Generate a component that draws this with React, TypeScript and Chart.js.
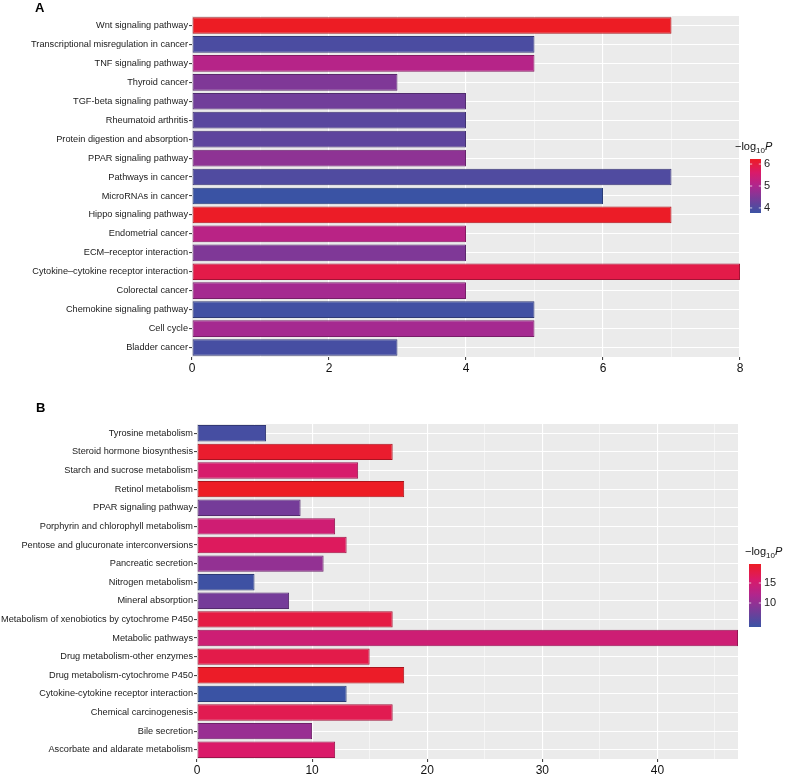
import React, { useEffect, useRef } from "react";
import { Chart, registerables } from "chart.js";

Chart.register(...registerables);

// ---------- Panel A data ----------
const categoriesA = [
  "Wnt signaling pathway",
  "Transcriptional misregulation in cancer",
  "TNF signaling pathway",
  "Thyroid cancer",
  "TGF-beta signaling pathway",
  "Rheumatoid arthritis",
  "Protein digestion and absorption",
  "PPAR signaling pathway",
  "Pathways in cancer",
  "MicroRNAs in cancer",
  "Hippo signaling pathway",
  "Endometrial cancer",
  "ECM\u2013receptor interaction",
  "Cytokine\u2013cytokine receptor interaction",
  "Colorectal cancer",
  "Chemokine signaling pathway",
  "Cell cycle",
  "Bladder cancer",
];
const countsA = [7, 5, 5, 3, 4, 4, 4, 4, 7, 6, 7, 4, 4, 8, 4, 5, 5, 3];
const logPA = [6.23, 3.95, 5.1, 4.5, 4.35, 4.1, 4.15, 4.65, 4.0, 3.77, 6.2, 5.15, 4.5, 5.9, 4.9, 3.85, 4.9, 3.9];
const xTicksA = [0, 1, 2, 3, 4, 5, 6, 7, 8];
const xLabelStepA = 2;
const xMaxA = 8;
const legendTicksA = [4, 5, 6];
const legendRangeA = [3.77, 6.23];

// ---------- Panel B data ----------
const categoriesB = [
  "Tyrosine metabolism",
  "Steroid hormone biosynthesis",
  "Starch and sucrose metabolism",
  "Retinol metabolism",
  "PPAR signaling pathway",
  "Porphyrin and chlorophyll metabolism",
  "Pentose and glucuronate interconversions",
  "Pancreatic secretion",
  "Nitrogen metabolism",
  "Mineral absorption",
  "Metabolism of xenobiotics by cytochrome P450",
  "Metabolic pathways",
  "Drug metabolism-other enzymes",
  "Drug metabolism-cytochrome P450",
  "Cytokine-cytokine receptor interaction",
  "Chemical carcinogenesis",
  "Bile secretion",
  "Ascorbate and aldarate metabolism",
];
const countsB = [6, 17, 14, 18, 9, 12, 13, 11, 5, 8, 17, 47, 15, 18, 13, 17, 10, 12];
const logPB = [4.8, 19.2, 15.5, 19.75, 8.0, 14.8, 16.5, 10.0, 4.3, 8.0, 18.0, 14.6, 17.6, 19.5, 4.0, 17.2, 10.4, 15.8];
const xTicksB = [0, 5, 10, 15, 20, 25, 30, 35, 40, 45];
const xLabelStepB = 10;
const xMaxB = 47;
const legendTicksB = [10, 15];
const legendRangeB = [4.0, 19.75];

const FONT = "'Liberation Sans', Arial, Helvetica, sans-serif";

const stopPos = [0, 0.5, 0.75, 1];
const stopCol = [
  [58, 83, 164],
  [175, 38, 142],
  [218, 26, 105],
  [237, 28, 36],
];

function mix(a: number[], b: number[], t: number) {
  return a.map((v, i) => Math.round(v + (b[i] - v) * t));
}
function colorRGB(t: number) {
  t = Math.max(0, Math.min(1, t));
  for (let i = 0; i < stopPos.length - 1; i++) {
    if (t <= stopPos[i + 1]) {
      return mix(stopCol[i], stopCol[i + 1], (t - stopPos[i]) / (stopPos[i + 1] - stopPos[i]));
    }
  }
  return stopCol[stopCol.length - 1];
}
function colorFor(v: number, range: number[]) {
  const c = colorRGB((v - range[0]) / (range[1] - range[0]));
  return `rgb(${c[0]},${c[1]},${c[2]})`;
}
function borderFor(v: number, range: number[]) {
  const c = colorRGB((v - range[0]) / (range[1] - range[0])).map((x) => Math.round(x * 0.72));
  return `rgb(${c[0]},${c[1]},${c[2]})`;
}

type Layout = {
  width: number;
  height: number;
  axisWidth: number;
  axisHeight: number;
  padTop: number;
  padRight: number;
  letter: string;
  letterX: number;
  letterY: number;
  titleX: number;
  titleY: number;
  barX: number;
  barY: number;
  barW: number;
  barH: number;
  labelX: number;
};

const layoutA: Layout = {
  width: 786, height: 380, axisWidth: 192, axisHeight: 23, padTop: 16, padRight: 46,
  letter: "A", letterX: 35, letterY: 12,
  titleX: 735, titleY: 150, barX: 750, barY: 159, barW: 11, barH: 54, labelX: 764,
};
const layoutB: Layout = {
  width: 786, height: 394, axisWidth: 197, axisHeight: 15, padTop: 44, padRight: 48,
  letter: "B", letterX: 36, letterY: 32,
  titleX: 745, titleY: 175, barX: 749, barY: 184, barW: 12, barH: 63, labelX: 764,
};

function makeChart(
  canvas: HTMLCanvasElement,
  cats: string[],
  counts: number[],
  logP: number[],
  xTicks: number[],
  labelStep: number,
  xMax: number,
  legendTicks: number[],
  range: number[],
  L: Layout
) {
  const panelPlugin = {
    id: "panel" + L.letter,
    beforeDraw(chart: any) {
      const { ctx, chartArea } = chart;
      ctx.save();
      ctx.fillStyle = "#EBEBEB";
      ctx.fillRect(chartArea.left, chartArea.top, chartArea.right - chartArea.left, chartArea.bottom - chartArea.top);
      ctx.restore();
    },
    afterDraw(chart: any) {
      const ctx = chart.ctx as CanvasRenderingContext2D;
      ctx.save();
      // panel letter
      ctx.fillStyle = "#000";
      ctx.font = `bold 13px ${FONT}`;
      ctx.textBaseline = "alphabetic";
      ctx.textAlign = "left";
      ctx.fillText(L.letter, L.letterX, L.letterY);
      // legend title
      ctx.fillStyle = "#111";
      ctx.font = `11px ${FONT}`;
      let x = L.titleX;
      ctx.fillText("\u2212log", x, L.titleY);
      x += ctx.measureText("\u2212log").width;
      ctx.font = `8px ${FONT}`;
      ctx.fillText("10", x, L.titleY + 3);
      x += ctx.measureText("10").width;
      ctx.font = `italic 11px ${FONT}`;
      ctx.fillText("P", x, L.titleY);
      // colorbar
      const g = ctx.createLinearGradient(0, L.barY + L.barH, 0, L.barY);
      for (let i = 0; i <= 40; i++) {
        const c = colorRGB(i / 40);
        g.addColorStop(i / 40, `rgb(${c[0]},${c[1]},${c[2]})`);
      }
      ctx.fillStyle = g;
      ctx.fillRect(L.barX, L.barY, L.barW, L.barH);
      ctx.font = `11px ${FONT}`;
      ctx.textBaseline = "middle";
      ctx.fillStyle = "#222";
      legendTicks.forEach((v) => {
        const y = L.barY + L.barH - ((v - range[0]) / (range[1] - range[0])) * L.barH;
        ctx.strokeStyle = "rgba(255,255,255,0.9)";
        ctx.lineWidth = 0.8;
        ctx.beginPath();
        ctx.moveTo(L.barX, y);
        ctx.lineTo(L.barX + 2.2, y);
        ctx.moveTo(L.barX + L.barW - 2.2, y);
        ctx.lineTo(L.barX + L.barW, y);
        ctx.stroke();
        ctx.fillText(String(v), L.labelX, y);
      });
      ctx.restore();
    },
  };

  return new Chart(canvas, {
    type: "bar",
    data: {
      labels: cats,
      datasets: [
        {
          data: counts,
          backgroundColor: logP.map((v) => colorFor(v, range)),
          borderColor: logP.map((v) => borderFor(v, range)),
          borderWidth: 1,
          borderSkipped: false,
          barPercentage: 0.88,
          categoryPercentage: 1,
        },
      ],
    },
    options: {
      indexAxis: "y",
      responsive: false,
      animation: false,
      layout: { padding: { top: L.padTop, right: L.padRight, left: 0, bottom: 0 } },
      plugins: { legend: { display: false }, tooltip: { enabled: false } },
      scales: {
        x: {
          type: "linear",
          min: 0,
          max: xMax,
          afterBuildTicks: (scale: any) => {
            scale.ticks = xTicks.map((v) => ({ value: v }));
          },
          afterFit: (scale: any) => {
            scale.height = L.axisHeight;
          },
          border: { display: false },
          grid: {
            color: "#FFFFFF",
            lineWidth: (c: any) => (c.tick && c.tick.value % labelStep === 0 ? 1.1 : 0.5),
            tickColor: (c: any) => (c.tick && c.tick.value % labelStep === 0 ? "#444" : "rgba(0,0,0,0)"),
            tickLength: 3,
            drawTicks: true,
          },
          ticks: {
            autoSkip: false,
            maxRotation: 0,
            padding: 1,
            color: "#111",
            font: { family: FONT, size: 12 },
            callback: (v: any) => (Number(v) % labelStep === 0 ? String(v) : ""),
          },
        },
        y: {
          type: "category",
          afterFit: (scale: any) => {
            scale.width = L.axisWidth;
          },
          border: { display: false },
          grid: {
            offset: false,
            color: "#FFFFFF",
            lineWidth: 1.1,
            tickColor: "#444",
            tickLength: 3,
            drawTicks: true,
          },
          ticks: {
            autoSkip: false,
            padding: 1,
            color: "#1a1a1a",
            font: { family: FONT, size: 9.2 },
          },
        },
      },
    },
    plugins: [panelPlugin],
  } as any);
}

export default function App() {
  const refA = useRef<HTMLCanvasElement>(null);
  const refB = useRef<HTMLCanvasElement>(null);

  useEffect(() => {
    const a = makeChart(refA.current!, categoriesA, countsA, logPA, xTicksA, xLabelStepA, xMaxA, legendTicksA, legendRangeA, layoutA);
    const b = makeChart(refB.current!, categoriesB, countsB, logPB, xTicksB, xLabelStepB, xMaxB, legendTicksB, legendRangeB, layoutB);
    return () => {
      a.destroy();
      b.destroy();
    };
  }, []);

  return (
    <div style={{ position: "absolute", left: 0, top: 0, width: 786, height: 774, background: "#fff", overflow: "hidden" }}>
      <canvas ref={refA} width={786} height={380} style={{ position: "absolute", left: 0, top: 0, width: 786, height: 380 }} />
      <canvas ref={refB} width={786} height={394} style={{ position: "absolute", left: 0, top: 380, width: 786, height: 394 }} />
    </div>
  );
}
